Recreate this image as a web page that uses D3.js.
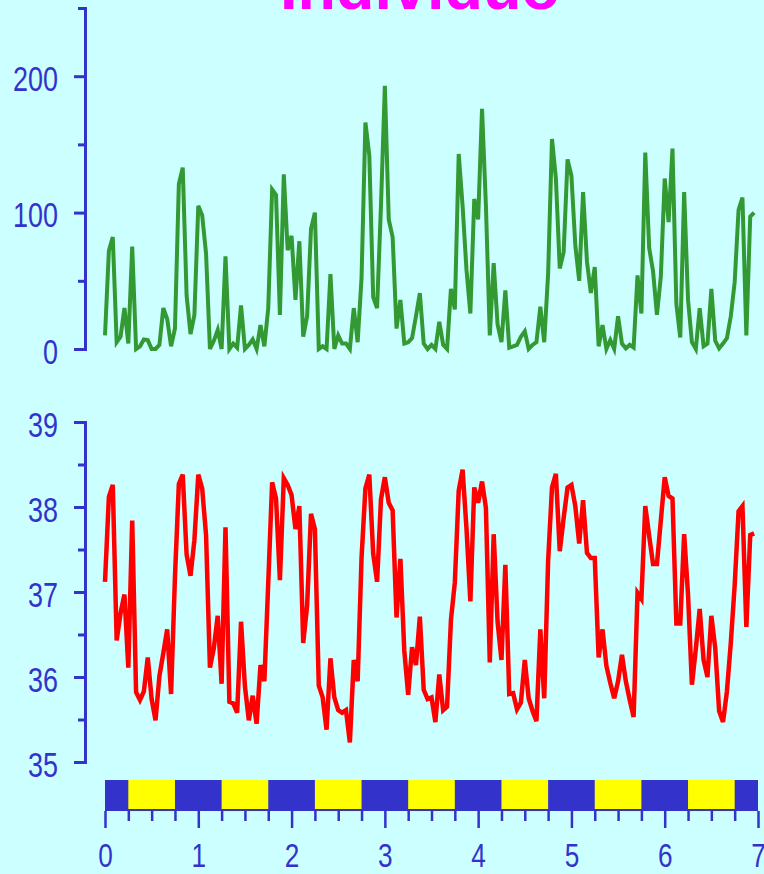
<!DOCTYPE html>
<html>
<head>
<meta charset="utf-8">
<script src="https://cdn.jsdelivr.net/npm/d3@7"></script>
<style>
  body { margin: 0; background: #ccffff; }
  svg { display: block; }
</style>
</head>
<body>
<div id="chart"></div>
<script>
// hourly samples over 7 days
var activity = [10,72,82,5,9,30,4,75,0,2, 7,6.5,0,0,3,30,22,2,15,121,
  133,39,11,25,105,98,70,0,6,14, 0,68,0,4,1,32,0,3,7,0,
  17.6,2,30,117,113,25,128,72.5,83,36, 79,9,24,88,100,0,2,0,55,0,
  10,4,4,0,30,5,52,166,142,38, 30,105,193,95,82,15,36,4,5,8,
  24,41,4,0,3,0,20,3,0,44, 29,143,105,58,26,110,95,176,105,10,
  63,18,5,43,1, 2,3,9,13,0,3,5,31,5,55,
  154,125,59,71,139,127,76,50,115,64, 41,60,2,17.6,0,6.6,0,24,4,0.5,
  3,1,54,26,144,74,57,25,53,125, 93,147,33,8.5,115,36,5,0,30,2,
  4,44,6,0.5,4,8,24,49,102,111, 10,97,100];

var temperature = [37.12,38.12,38.26,36.43,36.75,36.97,36.11,37.84,35.82,35.73,
  35.83,36.23,35.74,35.49,36.01,36.28,36.56,35.80,37.18,38.27,
  38.38,37.44,37.19,37.61,38.38,38.22,37.67,36.11,36.34,36.72,
  35.92,37.76,35.71,35.69,35.58,36.65,35.89,35.49,35.78,35.45,
  36.14,35.95,37.11,38.29,38.10,37.14,38.34,38.26,38.14,37.74,
  38.01,36.40,36.84,37.92,37.74,35.90,35.76,35.38,36.22,35.76,
  35.61,35.58,35.61,35.23,36.20,35.95,37.40,38.22,38.38,37.45,
  37.12,38.09,38.35,38.05,37.96,36.70,37.39,36.31,35.79,36.35,
  36.14,36.71,35.85,35.74,35.76,35.47,36.03,35.61,35.65,36.67,
  37.11,38.19,38.44,37.75,36.89,38.23,38.05,38.30,37.99,36.17,
  37.68,36.65,36.20,37.32,35.80,
  35.81,35.62,35.70,36.20,35.75,35.60,35.48,36.56,35.75,37.36,
  38.23,38.39,37.48,37.87,38.23,38.26,38.01,37.57,38.08,37.46,
  37.40,37.40,36.23,36.56,36.13,35.93,35.75,35.95,36.26,35.95,
  35.73,35.53,36.99,36.92,38.01,37.66,37.33,37.33,37.84,38.35,
  38.13,38.10,36.63,36.63,37.68,36.97,35.91,36.33,36.80,36.20,
  36.00,36.72,36.34,35.60,35.47,35.83,36.40,37.08,37.95,38.01,
  36.59,37.67,37.69];

// light phase (days): lights on 0.25 - 0.75 of each day
var lightOn  = [0.25, 1.25, 2.25, 3.25, 4.25, 5.25, 6.25];
var lightOff = [0.75, 1.75, 2.75, 3.75, 4.75, 5.75, 6.75];

var dayTicks = [0, 1, 2, 3, 4, 5, 6, 7];
var actTicks = [0, 100, 200], actMinor = [50, 150, 250];
var tempTicks = [35, 36, 37, 38, 39], tempMinor = [35.5, 36.5, 37.5, 38.5];
var title = "Individuo";

function main() {
    var width = 764, height = 874;
    var blue = "#3333cc", sx = 0.77;
    var svg = d3.select("#chart").append("svg")
                .attr("width", width).attr("height", height)
                .style("font-family", "'Liberation Sans', Arial, sans-serif");

    var x = d3.scaleLinear().domain([0, 7]).range([105, 758]);
    var yAct = d3.scaleLinear().domain([0, 250]).range([349, 8]);
    var yTemp = d3.scaleLinear().domain([35, 39]).range([762, 422]);

    svg.append("text").attr("x", 420).attr("y", 9)
        .attr("text-anchor", "middle").attr("font-size", 63).attr("font-weight", "bold")
        .attr("fill", "#ff00ff").text(title);

    function yAxis(scale, major, minor) {
        var g = svg.append("g").attr("transform", "translate(85,0)");
        g.call(d3.axisLeft(scale).tickValues(minor).tickSize(7).tickFormat(""));
        g.append("g").call(d3.axisLeft(scale).tickValues(major).tickSizeInner(11).tickSizeOuter(0)
            .tickPadding(16).tickFormat(d3.format("d")));
        g.selectAll("path.domain").attr("stroke", blue).attr("stroke-width", 3);
        g.selectAll(".tick line").attr("stroke", blue).attr("stroke-width", 3);
        g.selectAll(".tick text").attr("fill", blue).attr("font-size", 35)
            .attr("transform", "scale(" + sx + ",1)").attr("x", -27 / sx).attr("dy", "0.4em");
        return g;
    }
    yAxis(yAct, actTicks, actMinor);
    yAxis(yTemp, tempTicks, tempMinor);

    var actLine = d3.line().x(function(d, i) { return x(i / 24); }).y(function(d) { return yAct(d); });
    svg.append("path").datum(activity).attr("d", actLine)
        .attr("fill", "none").attr("stroke", "#339933").attr("stroke-width", 4);

    var tempLine = d3.line().x(function(d, i) { return x(i / 24); }).y(function(d) { return yTemp(d); });
    svg.append("path").datum(temperature).attr("d", tempLine)
        .attr("fill", "none").attr("stroke", "#ff0000").attr("stroke-width", 4.5);

    // light / dark bar
    svg.append("rect").attr("x", x(0)).attr("y", 780)
        .attr("width", x(7) - x(0)).attr("height", 31).attr("fill", blue);
    svg.selectAll(".light").data(lightOn).enter().append("rect").classed("light", true)
        .attr("x", function(d) { return x(d); }).attr("y", 780)
        .attr("width", function(d, i) { return x(lightOff[i]) - x(d); }).attr("height", 29)
        .attr("fill", "#ffff00");

    var minor = [];
    dayTicks.slice(0, -1).forEach(function(d) { minor.push(d + 0.25, d + 0.5, d + 0.75); });
    var xg = svg.append("g").attr("transform", "translate(0,811)");
    xg.call(d3.axisBottom(x).tickValues(minor).tickSize(10).tickFormat(""));
    xg.append("g").call(d3.axisBottom(x).tickValues(dayTicks).tickSize(17).tickFormat(d3.format("d")));
    xg.selectAll("path.domain").remove();
    xg.selectAll(".tick line").attr("stroke", blue).attr("stroke-width", 2.5);
    xg.selectAll(".tick text").attr("fill", blue).attr("font-size", 34)
        .attr("transform", "scale(" + sx + ",1)").attr("y", 56).attr("dy", 0);
}
main();
</script>
</body>
</html>
